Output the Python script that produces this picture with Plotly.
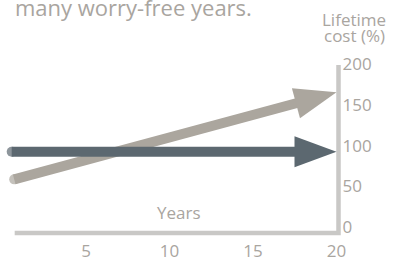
import plotly.graph_objects as go
import math

# ---- data ----
years_ticks = [5, 10, 15, 20]
cost_ticks = [0, 50, 100, 150, 200]

flat_x = [0.55, 20]      # lifetime cost of the flat option
flat_y = [100, 100]
rise_x = [0.7, 20]       # lifetime cost of the rising option
rise_y = [66, 173]

title_text = "many worry-free years."
x_title = "Years"
y_title_lines = ["Lifetime", "cost (%)"]

# ---- styling ----
W, H = 395, 259
PX_X = 16.7          # px per year
X0_PX = 2.5          # px of year 0
PX_Y = 0.813         # px per percent
Y0_PX = 233          # px (from top) of 0 %
TEXT = "#a9a59f"
AXIS = "#c9c8c6"
DARK = "#5c6870"
GREY = "#aba69e"
FONT = "Open Sans"
TICK_SIZE = 17

x_range = [-X0_PX / PX_X, (W - X0_PX) / PX_X]
y_range = [-(H - Y0_PX) / PX_Y, Y0_PX / PX_Y]

HEAD_L, HEAD_W = 42, 15.5

fig = go.Figure()
shapes = []

# axis lines (drawn first, under arrows)
shapes.append(dict(type="path", xref="x", yref="y",
                   path=f"M {0.73},0 L {20 + 2 / PX_X},0 L {20 + 2 / PX_X},{(Y0_PX - 65) / PX_Y}",
                   line=dict(color=AXIS, width=4.5), layer="below"))

for xs, ys, col in [(rise_x, rise_y, GREY), (flat_x, flat_y, DARK)]:
    dx = (xs[1] - xs[0]) * PX_X
    dy = (ys[1] - ys[0]) * PX_Y
    n = math.hypot(dx, dy)
    ux, uy = dx / n, dy / n
    back = HEAD_L - 6
    end_x = xs[1] - back * ux / PX_X
    end_y = ys[1] - back * uy / PX_Y
    fig.add_trace(go.Scatter(x=[xs[0], end_x], y=[ys[0], end_y], mode="lines+markers",
                             line=dict(color=col, width=10),
                             marker=dict(size=[10, 0], color=col, line=dict(width=0)),
                             hoverinfo="skip", showlegend=False, cliponaxis=False))
    bx, by = -HEAD_L * ux, -HEAD_L * uy
    px1, py1 = bx - HEAD_W * uy, by + HEAD_W * ux
    px2, py2 = bx + HEAD_W * uy, by - HEAD_W * ux
    shapes.append(dict(type="path", xref="x", yref="y", xsizemode="pixel", ysizemode="pixel",
                       xanchor=xs[1], yanchor=ys[1],
                       path=f"M 0,0 L {px1:.2f},{py1:.2f} L {px2:.2f},{py2:.2f} Z",
                       fillcolor=col, line=dict(width=0), layer="above"))

annotations = [
    dict(text=title_text, xref="paper", yref="paper", x=13 / W, y=1 - 7 / H,
         xanchor="left", yanchor="middle", showarrow=False,
         font=dict(family=FONT, size=22, color=TEXT)),
    dict(text=y_title_lines[0], xref="paper", yref="paper", x=354 / W, y=1 - 20 / H,
         xanchor="center", yanchor="middle", showarrow=False,
         font=dict(family=FONT, size=TICK_SIZE, color=TEXT)),
    dict(text=y_title_lines[1], xref="paper", yref="paper", x=354 / W, y=1 - 36 / H,
         xanchor="center", yanchor="middle", showarrow=False,
         font=dict(family=FONT, size=TICK_SIZE, color=TEXT)),
    dict(text=x_title, xref="paper", yref="paper", x=178.5 / W, y=1 - 212 / H,
         xanchor="center", yanchor="middle", showarrow=False,
         font=dict(family=FONT, size=TICK_SIZE, color=TEXT)),
]

fig.update_layout(
    width=W, height=H, margin=dict(l=0, r=0, t=0, b=0),
    paper_bgcolor="white", plot_bgcolor="white",
    shapes=shapes, annotations=annotations,
    xaxis=dict(range=x_range, domain=[0, 1], anchor="free", position=(H - Y0_PX) / H,
               tickvals=years_ticks, ticks="", showgrid=False, zeroline=False, showline=False,
               tickfont=dict(family=FONT, size=TICK_SIZE, color=TEXT), automargin=False,
               ticklabelstandoff=6, fixedrange=True),
    yaxis=dict(range=y_range, domain=[0, 1], anchor="free", position=336.5 / W, side="right",
               tickvals=cost_ticks, ticks="", showgrid=False, zeroline=False, showline=False,
               tickfont=dict(family=FONT, size=TICK_SIZE, color=TEXT), automargin=False,
               ticklabelshift=-6, ticklabelstandoff=5, fixedrange=True),
)

fig.write_html("out.html", config={"displayModeBar": False},
               post_script="document.body.style.margin='0';document.body.style.overflow='hidden';")
